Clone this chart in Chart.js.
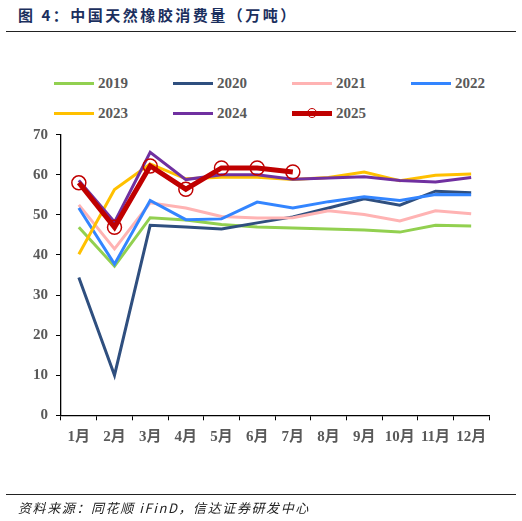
<!DOCTYPE html>
<html>
<head>
<meta charset="utf-8">
<script src="https://cdn.jsdelivr.net/npm/chart.js@4.4.1/dist/chart.umd.min.js"></script>
<style>
  html, body { margin:0; padding:0; background:#fff; width:522px; height:521px; overflow:hidden; }
  #wrap { position:relative; width:522px; height:521px; }
  #c { position:absolute; left:0; top:0; }
  #title { position:absolute; left:18px; top:4px; font:bold 15px 'Noto Sans CJK SC', sans-serif; color:#1b2f5e; letter-spacing:2.5px; white-space:nowrap; }
  #topline { position:absolute; left:6px; top:31px; width:510px; height:0; border-top:1.5px solid #222; }
  #botline { position:absolute; left:6px; top:494px; width:510px; height:0; border-top:1px solid #222; }
  #source { position:absolute; left:18px; top:498px; font:italic 13px 'Noto Sans CJK SC', sans-serif; color:#222; letter-spacing:1.6px; white-space:nowrap; }
  .lg { position:absolute; height:20px; }
  .lg .ln { position:absolute; left:0; width:40px; top:9px; height:3px; }
  .lg .mk { position:absolute; left:15px; top:5px; width:8px; height:8px; border:1.5px solid #c00000; border-radius:50%; background:transparent; }
  .lg .tx { position:absolute; left:44px; top:0; font:bold 15px 'Liberation Serif', serif; color:#595959; line-height:20px; }
</style>
</head>
<body>
<div id="wrap">
  <div id="title">图 4：中国天然橡胶消费量（万吨）</div>
  <div id="topline"></div>
  <div id="legend"></div>
  <canvas id="c" width="522" height="521"></canvas>
  <div id="botline"></div>
  <div id="source">资料来源：同花顺 iFinD，信达证券研发中心</div>
</div>
<script>
const months = ['1月','2月','3月','4月','5月','6月','7月','8月','9月','10月','11月','12月'];
const seriesNames = ['2019','2020','2021','2022','2023','2024','2025'];
const v2019 = [46.9, 37.2, 49.3, 48.7, 47.6, 47.0, 46.7, 46.5, 46.2, 45.7, 47.4, 47.2];
const v2020 = [34.4, 10.0, 47.4, 47.0, 46.5, 48.0, 49.5, 51.7, 54.0, 52.4, 55.9, 55.5];
const v2021 = [52.5, 41.5, 53.0, 51.7, 49.6, 49.2, 49.3, 51.0, 50.1, 48.5, 51.0, 50.3];
const v2022 = [51.7, 37.7, 53.6, 48.8, 49.0, 53.2, 51.7, 53.3, 54.5, 53.6, 55.1, 55.0];
const v2023 = [40.2, 56.3, 62.7, 59.0, 59.4, 59.4, 58.8, 59.3, 60.7, 58.5, 59.9, 60.2];
const v2024 = [58.6, 48.2, 65.6, 58.8, 60.0, 60.0, 58.9, 59.2, 59.5, 58.6, 58.2, 59.3];
const v2025 = [58.0, 46.9, 62.2, 56.4, 61.7, 61.7, 60.7];
const yTicks = [0, 10, 20, 30, 40, 50, 60, 70];

const values = [v2019, v2020, v2021, v2022, v2023, v2024, v2025];
const colors = ['#92d050', '#2f4f7f', '#ffb3b3', '#3385ff', '#ffc000', '#7030a0', '#c00000'];

const datasets = seriesNames.map((n, i) => {
  const isLast = i === seriesNames.length - 1;
  return {
    label: n,
    data: values[i],
    borderColor: colors[i],
    backgroundColor: colors[i],
    borderWidth: isLast ? 5 : 3,
    tension: 0,
    fill: false,
    order: seriesNames.length - i,
    pointRadius: isLast ? 7 : 0,
    pointHoverRadius: isLast ? 7 : 0,
    pointBorderWidth: 1.5,
    pointBorderColor: colors[i],
    pointBackgroundColor: 'rgba(0,0,0,0)'
  };
});

// HTML legend
const lg = document.getElementById('legend');
seriesNames.forEach((n, i) => {
  const col = i % 4, row = Math.floor(i / 4);
  const d = document.createElement('div');
  d.className = 'lg';
  d.style.left = (54 + col * 119) + 'px';
  d.style.top = (73 + row * 30) + 'px';
  const isLast = i === seriesNames.length - 1;
  d.innerHTML = '<div class="ln" style="background:' + colors[i] + ';' + (isLast ? 'height:5px;top:8px;' : '') + '"></div>' +
    (isLast ? '<div class="mk"></div>' : '') +
    '<div class="tx">' + n + '</div>';
  lg.appendChild(d);
});

const tickFont = { family: "'Liberation Serif', 'Noto Sans CJK SC', serif", size: 15, weight: 'bold' };

new Chart(document.getElementById('c'), {
  type: 'line',
  data: { labels: months, datasets },
  options: {
    responsive: false,
    animation: false,
    devicePixelRatio: 1,
    layout: { padding: { left: 0, right: 33, top: 134.7, bottom: 0 } },
    plugins: { legend: { display: false }, tooltip: { enabled: false }, title: { display: false } },
    scales: {
      x: {
        type: 'category',
        offset: true,
        grid: { display: true, drawOnChartArea: false, drawTicks: true, tickLength: 5, color: '#000', offset: true },
        border: { display: true, color: '#000', width: 1.3 },
        ticks: { color: '#595959', font: tickFont, padding: 8, maxRotation: 0, autoSkip: false },
        afterFit: s => { s.height = 521 - 415.3; }
      },
      y: {
        min: 0, max: 70,
        afterBuildTicks: s => { s.ticks = yTicks.map(v => ({ value: v })); },
        grid: { display: true, drawOnChartArea: false, drawTicks: true, tickLength: 5, color: '#000' },
        border: { display: true, color: '#000', width: 1.3 },
        ticks: { color: '#595959', font: tickFont, padding: 8 },
        afterFit: s => { s.width = 61; }
      }
    }
  }
});
</script>
</body>
</html>
